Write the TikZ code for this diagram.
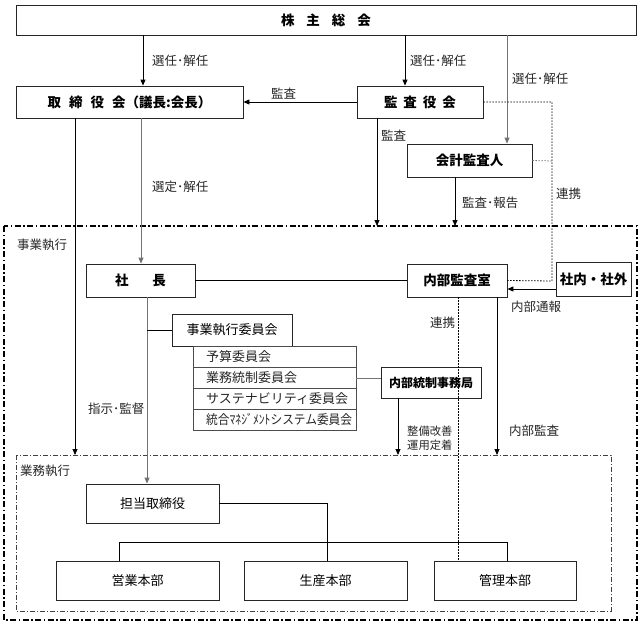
\documentclass[tikz,border=0pt]{standalone}
\usepackage{fontspec}
\setmainfont{Noto Sans CJK JP}
\usetikzlibrary{arrows.meta}
\tikzset{
  box/.style={draw=black!85, line width=0.8pt, inner sep=0pt, font=\fontsize{13.5}{15}\selectfont\bfseries},
  nbox/.style={draw=black!85, line width=0.8pt, inner sep=0pt, font=\fontsize{13}{15}\selectfont},
  cbox/.style={draw=black!70, line width=0.8pt, inner sep=0pt, minimum width=163pt, minimum height=21pt},
  lbl/.style={inner sep=0pt, anchor=west, font=\fontsize{12.5}{14}\selectfont, text=black!85},
  conn/.style={line width=0.8pt, draw=black},
  garr/.style={line width=0.8pt, draw=black!55},
  tip/.style={-{Triangle[length=6pt,width=5pt]}},
  dots/.style={line width=0.8pt, dash pattern=on 1.5pt off 1.5pt},
}
\begin{document}
\begin{tikzpicture}[x=1pt,y=-1pt]
\useasboundingbox (0,0) rectangle (640,624);
% frames
\draw[line width=1.5pt, dash pattern=on 6pt off 2.5pt on 1.5pt off 2.5pt] (4,226) rectangle (637,620);
\draw[line width=0.6pt, black!75, dash pattern=on 5pt off 2pt on 1pt off 2pt] (16,455) rectangle (611,611);
\coordinate (fr1) at (377,226);
\coordinate (fr2) at (455,226);
\coordinate (fr3) at (75,455);
\coordinate (fr4) at (398,455);
\coordinate (fr5) at (497,455);
\coordinate (dv) at (552,161);
\coordinate (br1) at (147,330);
% boxes
\node[box, minimum width=620pt, minimum height=30pt] (sh) at (326,20) {株\hspace{12pt}主\hspace{12pt}総\hspace{12pt}会};
\node[box, minimum width=227pt, minimum height=32pt] (tori) at (129.5,102) {取\hspace{8pt}締\hspace{8pt}役\hspace{8pt}会（議長:会長）};
\node[box, minimum width=126pt, minimum height=32pt] (kansa) at (420,102) {監\hspace{6pt}査\hspace{6pt}役\hspace{6pt}会};
\node[box, minimum width=125pt, minimum height=33pt] (kaikei) at (469.5,160.5) {会計監査人};
\node[box, minimum width=109pt, minimum height=33pt] (shacho) at (140.5,280.5) {社\hspace{24pt}長};
\node[box, minimum width=100pt, minimum height=33pt] (naibu) at (457,280.5) {内部監査室};
\node[box, minimum width=75pt, minimum height=34pt] (shanai) at (593.5,279) {社内・社外};
\node[nbox, minimum width=120pt, minimum height=32pt] (jigyo) at (232,330) {事業執行委員会};
\node[cbox] (c1) at (274.5,356.5) {};
\node[cbox] (c2) at (274.5,377.5) {};
\node[cbox] (c3) at (274.5,398.5) {};
\node[cbox] (c4) at (274.5,419.5) {};
\node[lbl, font=\fontsize{13}{15}\selectfont] (t1) at (206,356.5) {予算委員会};
\node[lbl, font=\fontsize{13}{15}\selectfont] (t2) at (206,377.5) {業務統制委員会};
\node[lbl, font=\fontsize{13}{15}\selectfont] (t3) at (206,398.5) {サステナビリティ委員会};
\node[lbl, font=\fontsize{13}{15}\selectfont] (t4) at (206,419.5) {\scalebox{0.9}[1]{統合ﾏﾈｼﾞﾒﾝﾄシステム委員会}};
\node[box, font=\fontsize{12}{14}\selectfont\bfseries, minimum width=100pt, minimum height=31pt] (tosei) at (431,382.5) {内部統制事務局};
\node[nbox, minimum width=133pt, minimum height=39pt] (tanto) at (152.5,503.5) {担当取締役};
\node[nbox, minimum width=163pt, minimum height=39pt] (eigyo) at (137.5,580.5) {営業本部};
\node[nbox, minimum width=163pt, minimum height=39pt] (seisan) at (325.5,580.5) {生産本部};
\node[nbox, minimum width=142pt, minimum height=39pt] (kanri) at (505,580.5) {管理本部};
% labels
\node[lbl] (l1) at (152,61) {選任･解任};
\node[lbl] (l2) at (410,61) {選任･解任};
\node[lbl] (l3) at (512,79) {選任･解任};
\node[lbl] (l4) at (271,94) {監査};
\node[lbl] (l5) at (381,136) {監査};
\node[lbl] (l6) at (152,187) {選定･解任};
\node[lbl] (l7) at (556,194) {連携};
\node[lbl] (l8) at (462,203) {監査･報告};
\node[lbl] (l9) at (17,245) {事業執行};
\node[lbl] (l10) at (511,307) {内部通報};
\node[lbl] (l11) at (430,323) {連携};
\node[lbl] (l12) at (88,409) {指示･監督};
\node[lbl, align=left, font=\fontsize{11.3}{14}\selectfont] (l13) at (407,438) {整備改善\\運用定着};
\node[lbl] (l14) at (509,431) {内部監査};
\node[lbl] (l15) at (20,471) {業務執行};
% connectors
\draw[conn,tip] (143,0 |- sh.south) -- (143,0 |- tori.north);
\draw[conn,tip] (405,0 |- sh.south) -- (405,0 |- kansa.north);
\draw[garr,tip] (507,0 |- sh.south) -- (507,0 |- kaikei.north);
\draw[conn,tip] (kansa.west) -- (tori.east);
\draw[dots] (kansa.east) -- (552,102) -- (552,281) -- (naibu.east);
\draw[dots, black!55] (kaikei.east) -- (dv);
\draw[conn,tip] (377,0 |- kansa.south) -- (fr1);
\draw[conn,tip] (455,0 |- kaikei.south) -- (fr2);
\draw[conn,tip] (75,0 |- tori.south) -- (fr3);
\draw[garr,tip] (141,0 |- tori.south) -- (141,0 |- shacho.north);
\draw[conn] (shacho.east) -- (naibu.west);
\draw[conn,tip] (shanai.west |- 0,289) -- (naibu.east |- 0,289);
\draw[garr,tip] (147,0 |- shacho.south) -- (147,0 |- tanto.north);
\draw[conn] (br1) -- (jigyo.west);
\draw[garr] (c2.east |- 0,378) -- (tosei.west |- 0,378);
\draw[conn,tip] (398,0 |- tosei.south) -- (fr4);
\draw[dots] (458,0 |- naibu.south) -- (458,0 |- kanri.north);
\draw[conn,tip] (497,0 |- naibu.south) -- (fr5);
\draw[conn] (tanto.east) -- (327,0 |- tanto.east) -- (327,0 |- seisan.north);
\draw[conn] (119,0 |- eigyo.north) -- (119,542) -- (507,542) -- (507,0 |- kanri.north);
\end{tikzpicture}
\end{document}
